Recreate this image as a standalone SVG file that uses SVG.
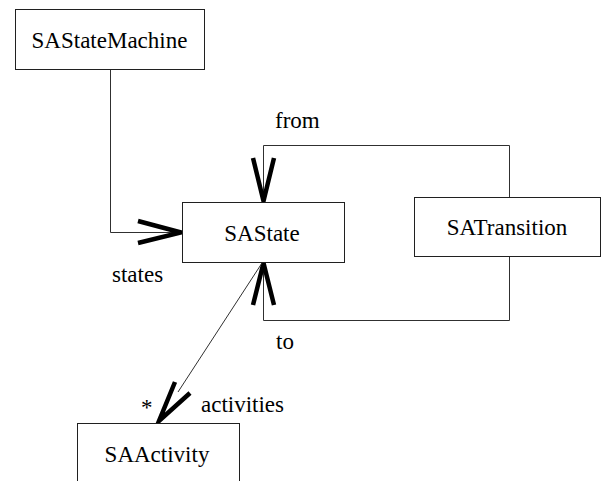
<svg xmlns="http://www.w3.org/2000/svg" width="602" height="481" viewBox="0 0 602 481">
  <style>
    .box { fill: #ffffff; stroke: #202020; stroke-width: 1; }
    .name { font-family: "Liberation Serif", "Times New Roman", serif; font-size: 23px; fill: #000000; text-anchor: middle; }
    .label { font-family: "Liberation Serif", "Times New Roman", serif; font-size: 23px; fill: #000000; }
    .line { fill: none; stroke: #303030; stroke-width: 1; }
    .head { fill: none; stroke: #000000; stroke-width: 4.5; stroke-linejoin: miter; stroke-miterlimit: 10; }
  </style>
  <rect width="602" height="481" fill="#ffffff"/>

  <g id="connectors">
    <!-- SAStateMachine -> SAState : states -->
    <polyline class="line" points="110.5,69 110.5,232.5 182,232.5"/>
    <polyline class="head" points="138,221 181,232.5 138,243"/>
    <text class="label" x="112" y="282">states</text>

    <!-- SATransition -> SAState : from -->
    <polyline class="line" points="509.5,197 509.5,145.5 263.5,145.5 263.5,200"/>
    <polyline class="head" points="253,158 263.5,201 274,158"/>
    <text class="label" x="275" y="128">from</text>

    <!-- SATransition -> SAState : to -->
    <polyline class="line" points="509.5,256 509.5,320.5 263.5,320.5 263.5,264"/>
    <polyline class="head" points="253,305 263.5,263 274,305"/>
    <text class="label" x="276" y="349">to</text>

    <!-- SAState -> SAActivity : activities -->
    <line class="line" x1="262" y1="263" x2="178" y2="392"/>
    <polyline class="head" points="175,382 159,421 190,393"/>
    <text class="label" x="141" y="415">*</text>
    <text class="label" x="201" y="412">activities</text>
  </g>

  <g id="SAStateMachine">
    <rect class="box" x="15.5" y="9.5" width="189" height="60"/>
    <text class="name" x="109.5" y="48">SAStateMachine</text>
  </g>

  <g id="SAState">
    <rect class="box" x="182.5" y="202.5" width="162" height="60"/>
    <text class="name" x="262" y="241">SAState</text>
  </g>

  <g id="SATransition">
    <rect class="box" x="414.5" y="197.5" width="186" height="59"/>
    <text class="name" x="507" y="235">SATransition</text>
  </g>

  <g id="SAActivity">
    <rect class="box" x="77.5" y="423.5" width="162" height="70"/>
    <text class="name" x="157" y="462">SAActivity</text>
  </g>
</svg>
